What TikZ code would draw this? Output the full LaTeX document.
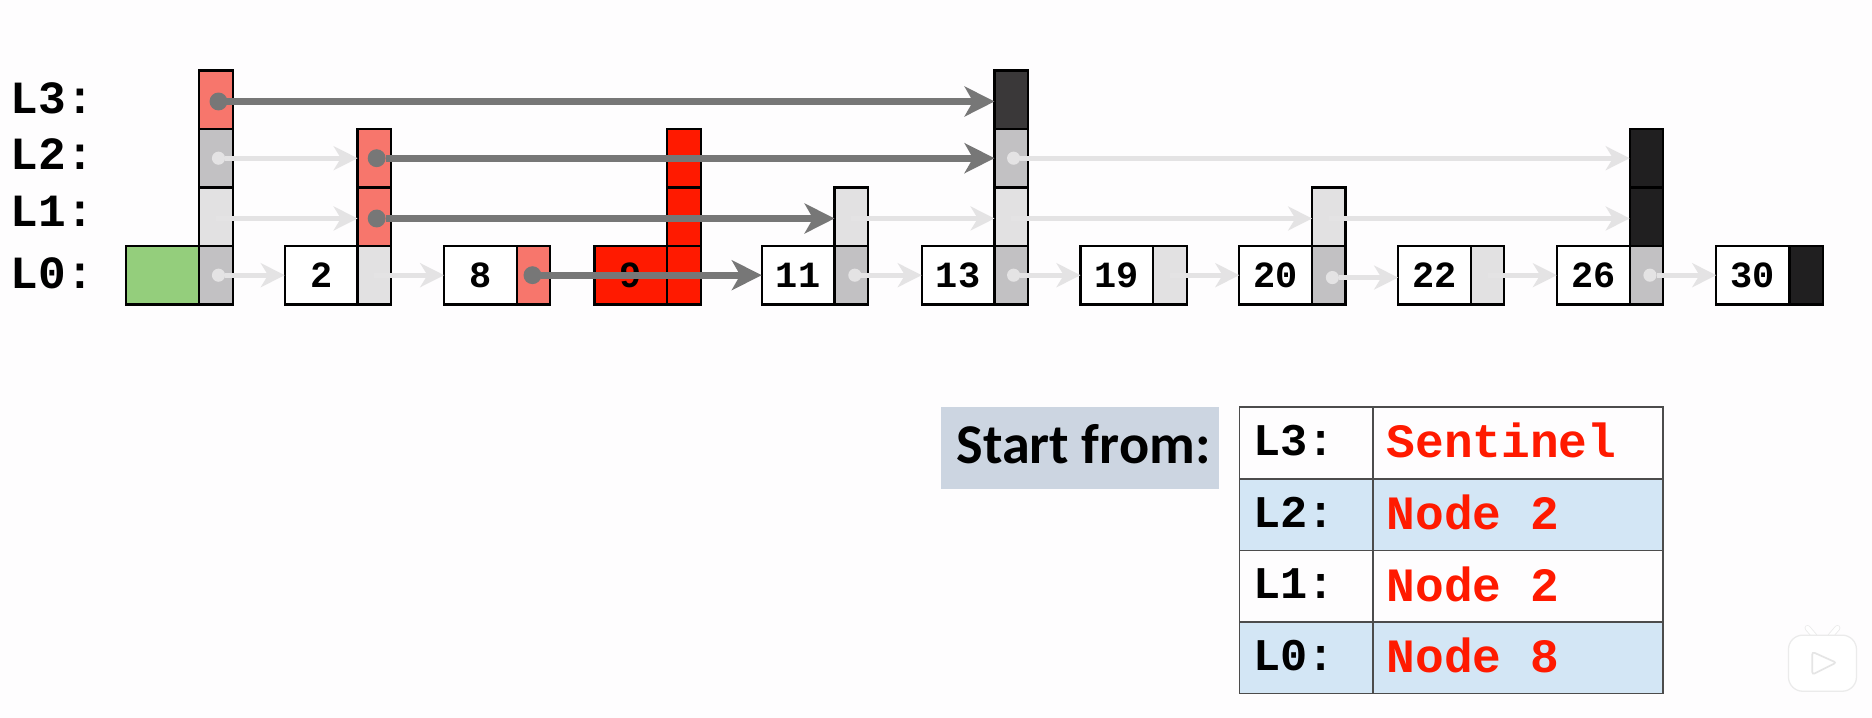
\documentclass[tikz,border=0pt]{standalone}
\usepackage{fontspec}
\setmonofont{Liberation Mono}
\setsansfont{Carlito}
\usetikzlibrary{arrows.meta}
\definecolor{pagebg}{HTML}{FEFDFE}
\definecolor{hotpink}{HTML}{F7766C}
\definecolor{palegray}{HTML}{E2E1E2}
\definecolor{midgray}{HTML}{C2C1C3}
\definecolor{hotred}{HTML}{FF1A00}
\definecolor{nilblack}{HTML}{201F20}
\definecolor{topblack}{HTML}{3A3839}
\definecolor{headgreen}{HTML}{94CE7C}
\definecolor{hopgray}{HTML}{777777}
\definecolor{skipgray}{HTML}{E4E3E4}
\definecolor{rowblue}{HTML}{D3E6F5}
\definecolor{startblue}{HTML}{CCD5E1}
\tikzset{
    val/.style={draw=black,line width=2.6pt,fill=white,inner sep=0pt,outer sep=0pt,minimum width=3.05cm,minimum height=2.45cm,font=\ttfamily\bfseries\fontsize{44}{44}\selectfont},
    cell/.style={draw=black,line width=2.6pt,inner sep=0pt,outer sep=0pt,minimum width=1.4cm,minimum height=2.45cm},
    hop/.style={draw=hopgray,line width=8pt,-{Stealth[length=1.25cm,width=1.25cm,inset=.35cm]}},
    skip/.style={draw=skipgray,line width=5.6pt,-{Stealth[length=1cm,width=1cm,inset=.3cm]}},
    hopdot/.style={circle,fill=hopgray,inner sep=0pt,outer sep=0pt,minimum size=.75cm},
    skipdot/.style={circle,fill=skipgray,inner sep=0pt,outer sep=0pt,minimum size=.55cm},
    lvl/.style={anchor=west,inner sep=0pt,font=\ttfamily\bfseries\fontsize{55}{55}\selectfont},
    tabkey/.style={draw=black!70,line width=1.8pt,inner sep=0pt,outer sep=0pt,minimum width=5.6cm,minimum height=3cm,text width=4.4cm,text depth=.2cm,align=flush left,font=\ttfamily\bfseries\fontsize{54}{54}\selectfont},
    tabval/.style={draw=black!70,line width=1.8pt,inner sep=0pt,outer sep=0pt,minimum width=12.15cm,minimum height=3cm,text width=11cm,text depth=.2cm,align=flush left,text=hotred,font=\ttfamily\bfseries\fontsize{57}{57}\selectfont}
}
\begin{document}
\begin{tikzpicture}[x=0.05cm,y=-0.05cm]
    \fill[pagebg] (0,0) rectangle (1568,601.4);
    % level names
    \node[lvl] (L3) at (9,82) {L3:};
    \node[lvl] (L2) at (9,129) {L2:};
    \node[lvl] (L1) at (9,177) {L1:};
    \node[lvl] (L0) at (9,229) {L0:};
    % sentinel
    \node[val,fill=headgreen] (sv) at (136,230.5) {};
    \node[cell,fill=midgray] (s0) at (181,230.5) {};
    \node[cell,fill=palegray] (s1) at (181,181.5) {};
    \node[cell,fill=midgray] (s2) at (181,132.5) {};
    \node[cell,fill=hotpink] (s3) at (181,83.5) {};
    % nodes
    \node[val] (n2v) at (269,230.5) {2};
    \node[cell,fill=palegray] (n2l0) at (313.5,230.5) {};
    \node[cell,fill=hotpink] (n2l1) at (313.5,181.5) {};
    \node[cell,fill=hotpink] (n2l2) at (313.5,132.5) {};
    \node[val] (n8v) at (402.5,230.5) {8};
    \node[cell,fill=hotpink] (n8l0) at (447,230.5) {};
    \node[val,fill=hotred] (n9v) at (528.5,230.5) {9};
    \node[cell,fill=hotred] (n9l0) at (573,230.5) {};
    \node[cell,fill=hotred] (n9l1) at (573,181.5) {};
    \node[cell,fill=hotred] (n9l2) at (573,132.5) {};
    \node[val] (n11v) at (668.5,230.5) {11};
    \node[cell,fill=midgray] (n11l0) at (713,230.5) {};
    \node[cell,fill=palegray] (n11l1) at (713,181.5) {};
    \node[val] (n13v) at (802.5,230.5) {13};
    \node[cell,fill=midgray] (n13l0) at (847,230.5) {};
    \node[cell,fill=palegray] (n13l1) at (847,181.5) {};
    \node[cell,fill=midgray] (n13l2) at (847,132.5) {};
    \node[cell,fill=topblack] (n13l3) at (847,83.5) {};
    \node[val] (n19v) at (935.5,230.5) {19};
    \node[cell,fill=palegray] (n19l0) at (980,230.5) {};
    \node[val] (n20v) at (1068.5,230.5) {20};
    \node[cell,fill=midgray] (n20l0) at (1113,230.5) {};
    \node[cell,fill=palegray] (n20l1) at (1113,181.5) {};
    \node[val] (n22v) at (1201.5,230.5) {22};
    \node[cell,fill=palegray] (n22l0) at (1246,230.5) {};
    \node[val] (n26v) at (1334.5,230.5) {26};
    \node[cell,fill=midgray] (n26l0) at (1379,230.5) {};
    \node[cell,fill=nilblack] (n26l1) at (1379,181.5) {};
    \node[cell,fill=nilblack] (n26l2) at (1379,132.5) {};
    \node[val] (n30v) at (1468,230.5) {30};
    \node[cell,fill=nilblack] (n30l0) at (1513,230.5) {};
    % pale links
    \node[skipdot,xshift=.1cm] (ds2) at (s2.center) {};
    \node[skipdot,xshift=.1cm] (ds0) at (s0.center) {};
    \node[skipdot,xshift=.15cm] (d11) at (n11l0.center) {};
    \node[skipdot,xshift=.1cm] (d13b) at (n13l2.center) {};
    \node[skipdot,xshift=.1cm] (d13a) at (n13l0.center) {};
    \node[skipdot,xshift=.15cm,yshift=-.1cm] (d20) at (n20l0.center) {};
    \node[skipdot,xshift=.15cm] (d26) at (n26l0.center) {};
    \draw[skip] (ds2) -- (n2l2.west);
    \draw[skip] ([yshift=-.075cm]s1.center) -- ([yshift=-.075cm]n2l1.west);
    \draw[skip] (ds0) -- (n2v.west);
    \draw[skip] (n2l0.center) -- (n8v.west);
    \draw[skip] ([yshift=-.075cm]n11l1.center) -- ([yshift=-.075cm]n13l1.west);
    \draw[skip] (d11) -- (n13v.west);
    \draw[skip] (d13b) -- (n26l2.west);
    \draw[skip] ([yshift=-.075cm]n13l1.center) -- ([yshift=-.075cm]n20l1.west);
    \draw[skip] (d13a) -- (n19v.west);
    \draw[skip] (n19l0.center) -- (n20v.west);
    \draw[skip] ([yshift=-.075cm]n20l1.center) -- ([yshift=-.075cm]n26l1.west);
    \draw[skip] (d20) -- ([yshift=-.1cm]n22v.west);
    \draw[skip] (n22l0.center) -- (n26v.west);
    \draw[skip] (d26) -- (n30v.west);
    % search path
    \node[hopdot,xshift=.1cm,yshift=-.075cm] (ds3) at (s3.center) {};
    \node[hopdot,xshift=.1cm] (d2b) at (n2l2.center) {};
    \node[hopdot,xshift=.1cm,yshift=-.075cm] (d2a) at (n2l1.center) {};
    \node[hopdot,xshift=-.05cm] (d8) at (n8l0.center) {};
    \draw[hop] (ds3) -- ([yshift=-.075cm]n13l3.west);
    \draw[hop] (d2b) -- (n13l2.west);
    \draw[hop] (d2a) -- ([yshift=-.075cm]n11l1.west);
    \draw[hop] (d8) -- (n11v.west);
    % table
    \node[fill=startblue,inner sep=0pt,minimum width=11.65cm,minimum height=3.45cm,text depth=.4cm,font=\sffamily\bfseries\fontsize{67}{67}\selectfont] (start) at (904.5,375.5) {\kern.3cm Start from:};
    \node[tabkey] (k3) at (1094,371) {L3:};
    \node[tabval] (w3) at (1271.5,371) {Sentinel};
    \node[tabkey,fill=rowblue] (k2) at (1094,431) {L2:};
    \node[tabval,fill=rowblue] (w2) at (1271.5,431) {Node 2};
    \node[tabkey] (k1) at (1094,491) {L1:};
    \node[tabval] (w1) at (1271.5,491) {Node 2};
    \node[tabkey,fill=rowblue] (k0) at (1094,551) {L0:};
    \node[tabval,fill=rowblue] (w0) at (1271.5,551) {Node 8};
    % player badge
    \draw[black!8,line width=7pt,line cap=round] (1514,526) -- (1520,533);
    \draw[black!8,line width=7pt,line cap=round] (1539,526) -- (1533,533);
    \draw[white,line width=5pt,line cap=round] (1514,526) -- (1520,533);
    \draw[white,line width=5pt,line cap=round] (1539,526) -- (1533,533);
    \draw[black!8,fill=white,line width=1.5pt,rounded corners=.6cm] (1498,532) rectangle (1555,579);
    \draw[black!10,fill=white,line width=2pt,rounded corners=.1cm] (1518,546) -- (1538,555) -- (1518,565) -- cycle;
\end{tikzpicture}
\end{document}
